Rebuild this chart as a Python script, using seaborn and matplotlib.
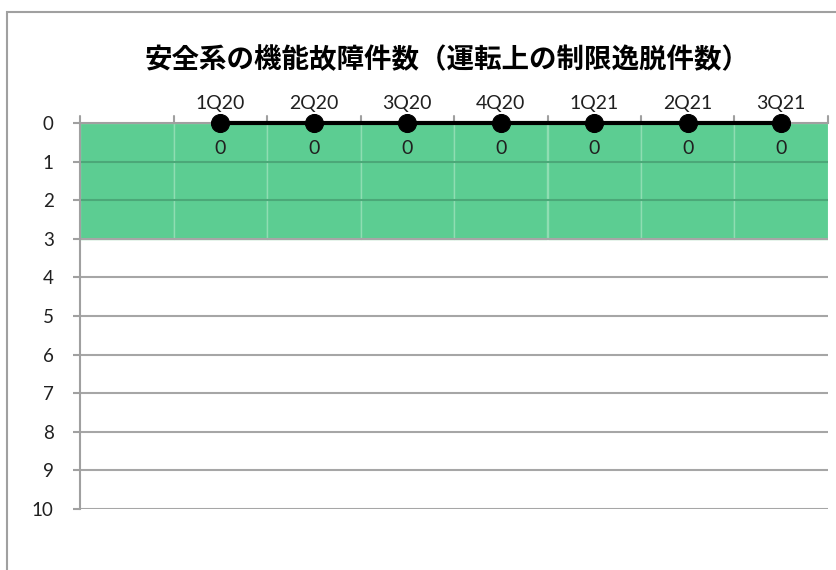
import matplotlib
matplotlib.use("Agg")
import matplotlib.pyplot as plt
import seaborn as sns
import pandas as pd
from matplotlib.patches import Rectangle

# データ
quarters = ["", "1Q20", "2Q20", "3Q20", "4Q20", "1Q21", "2Q21", "3Q21"]
band_level = [3, 3, 3, 3, 3, 3, 3, 3]          # 緑の帯（0〜3）
failures = [None, 0, 0, 0, 0, 0, 0, 0]         # 機能故障件数
title = "安全系の機能故障件数（運転上の制限逸脱件数）"

sns.set_theme(style="white")
plt.rcParams['font.family'] = ['Lato', 'Noto Sans CJK JP', 'DejaVu Sans']

df = pd.DataFrame({"quarter": quarters, "band": band_level, "count": failures})
df["pos"] = range(len(df))

fig = plt.figure(figsize=(8.37, 5.70), dpi=100)
ax = fig.add_axes([80 / 837, 1 - 509 / 570, 748 / 837, 386 / 570])

# 外枠
fig.patches.append(Rectangle((7 / 837, -0.1), 1.0, 1 - 12 / 570 + 0.1,
                             transform=fig.transFigure, fill=False,
                             edgecolor="#A0A0A0", linewidth=1.5, zorder=0))

# 緑の帯
sns.barplot(data=df, x="pos", y="band", width=1.0, color="#5CCD92",
            saturation=1, edgecolor="#8FDDB2", linewidth=1.0, ax=ax,
            native_scale=True, zorder=1)

# 目盛線
for v in range(0, 11):
    col = "#4BA878" if 0 < v < 3 else "#A6A6A6"
    ax.axhline(v, color=col, linewidth=1.5, zorder=1.5)

# 折れ線
line_df = df.dropna(subset=["count"])
sns.lineplot(data=line_df, x="pos", y="count", color="black", linewidth=3,
             marker="o", markersize=13, markeredgecolor="black", ax=ax,
             zorder=4, clip_on=False)

for x, y in zip(line_df["pos"], line_df["count"]):
    ax.text(x, y + 0.65, f"{int(y)}", ha="center", va="center",
            fontsize=14, color="#202020")

ax.set_xlim(-0.5, len(quarters) - 0.5)
ax.set_ylim(10, 0)
ax.set_yticks(range(0, 11))
ax.set_xticks(df["pos"])
ax.set_xticklabels(quarters)
ax.xaxis.tick_top()
ax.tick_params(axis="x", top=True, bottom=False, length=0, pad=8,
               labelsize=14, labelcolor="#202020")
ax.tick_params(axis="y", left=True, length=5, width=1.5, color="#A0A0A0",
               pad=14, labelsize=13.5, labelcolor="#202020")

# 上側の区切り目盛
for b in range(len(quarters) + 1):
    ax.plot([b - 0.5, b - 0.5], [0, -0.18], color="#A0A0A0", linewidth=1.5,
            clip_on=False, zorder=2)

for s in ["right", "bottom"]:
    ax.spines[s].set_visible(False)
ax.spines["left"].set_color("#A0A0A0")
ax.spines["left"].set_linewidth(1.5)
ax.spines["top"].set_color("#A0A0A0")
ax.spines["top"].set_linewidth(1.5)
ax.set_xlabel("")
ax.set_ylabel("")

fig.text(447 / 837, 1 - 60 / 570, title, ha="center", va="center",
         fontsize=19.8, fontweight="bold", color="black",
         family=['Noto Sans CJK JP', 'DejaVu Sans'])

fig.savefig("out.png", dpi=100)
